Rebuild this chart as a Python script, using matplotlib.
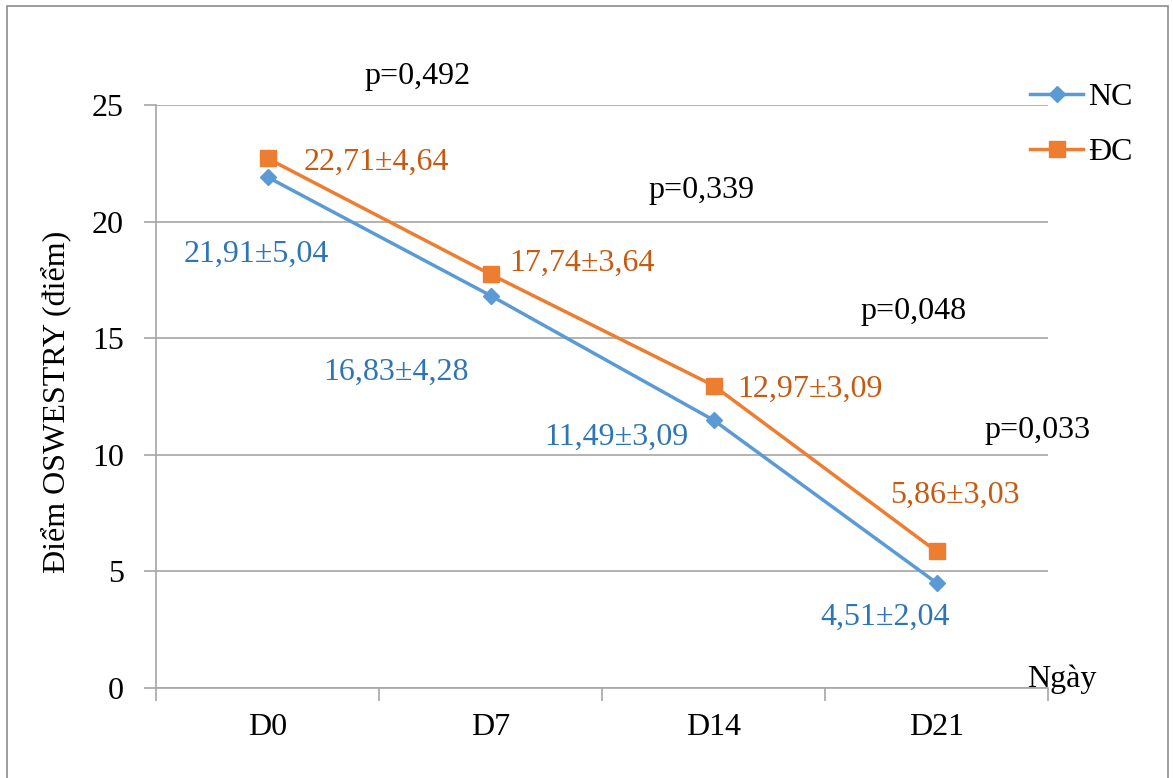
import matplotlib
matplotlib.use("Agg")
import matplotlib.pyplot as plt
from matplotlib.lines import Line2D

plt.rcParams['font.family'] = ['Liberation Serif', 'DejaVu Serif']

# --- data ---------------------------------------------------------------
days = ["D0", "D7", "D14", "D21"]
nc_mean = [21.91, 16.83, 11.49, 4.51]
nc_sd = [5.04, 4.28, 3.09, 2.04]
dc_mean = [22.71, 17.74, 12.97, 5.86]
dc_sd = [4.64, 3.64, 3.09, 3.03]
p_values = ["0,492", "0,339", "0,048", "0,033"]
y_ticks = [0, 5, 10, 15, 20, 25]

# --- layout / style -----------------------------------------------------
W, H = 1173, 778
FS = 23
NC_LINE, DC_LINE = "#5B9BD5", "#ED7D31"
NC_TEXT, DC_TEXT = "#2E75B6", "#C55A11"
GRID = "#A6A6A6"

# label offsets (pixels) from each marker
nc_offsets = [(-11, -77), (-94, -77), (-97, -17), (-51, -35)]
dc_offsets = [(109, -4), (92, 11), (97, -4), (18, 56)]
# p-value label anchors in data coordinates
p_pos = [(0.675, 26.22), (1.948, 21.33), (2.899, 16.14), (3.455, 11.04)]


def fmt(v):
    return f"{v:.2f}".replace(".", ",")


fig = plt.figure(figsize=(W / 100, H / 100), dpi=100)
ax = fig.add_axes([156 / W, 1 - 688 / H, 892 / W, 583 / H])

x = list(range(len(days)))
ax.plot(x, nc_mean, color=NC_LINE, lw=2.5, marker="D", ms=8.5,
        label="NC", zorder=3, clip_on=False)
ax.plot(x, dc_mean, color=DC_LINE, lw=2.5, marker="s", ms=12,
        label="ĐC", zorder=3, clip_on=False)

ax.set_xlim(-0.5, len(days) - 0.5)
ax.set_ylim(0, 25)
ax.set_yticks(y_ticks)
ax.set_yticklabels([str(t) for t in y_ticks], fontsize=FS)
ax.set_xticks(x)
ax.set_xticklabels(days, fontsize=FS)
ax.set_xticks([i - 0.5 for i in range(len(days) + 1)], minor=True)

ax.tick_params(axis="x", which="major", length=0, pad=18)
ax.tick_params(axis="x", which="minor", length=9, width=1.2, color=GRID,
               direction="out")
ax.tick_params(axis="y", which="major", length=9, width=1.2, color=GRID,
               direction="out", pad=14)

ax.grid(axis="y", color=GRID, lw=1.2, zorder=0)
ax.set_axisbelow(True)
for side in ("top", "right"):
    ax.spines[side].set_visible(False)
for side in ("left", "bottom"):
    ax.spines[side].set_color(GRID)
    ax.spines[side].set_linewidth(1.2)

# value labels (mean ± SD)
for i in x:
    ax.annotate(f"{fmt(nc_mean[i])}±{fmt(nc_sd[i])}", (i, nc_mean[i]),
                xytext=nc_offsets[i], textcoords="offset pixels",
                ha="center", va="center", fontsize=FS, color=NC_TEXT)
    ax.annotate(f"{fmt(dc_mean[i])}±{fmt(dc_sd[i])}", (i, dc_mean[i]),
                xytext=dc_offsets[i], textcoords="offset pixels",
                ha="center", va="center", fontsize=FS, color=DC_TEXT)

# p-values between groups
for (px, py), p in zip(p_pos, p_values):
    ax.text(px, py, f"p={p}", ha="center", va="center", fontsize=FS,
            color="black", clip_on=False)

# axis titles
fig.text(56 / W, 1 - 402 / H, "Điểm OSWESTRY (điểm)", rotation=90,
         ha="center", va="center", fontsize=FS)
fig.text(1062 / W, 1 - 679 / H, "Ngày", ha="center", va="center",
         fontsize=FS)

# legend
handles = [
    Line2D([], [], color=NC_LINE, lw=2.5, marker="D", ms=8.5),
    Line2D([], [], color=DC_LINE, lw=2.5, marker="s", ms=12),
]
fig.legend(handles, ["NC", "ĐC"], loc="upper left",
           bbox_to_anchor=(1030 / W, 1 - 83 / H), frameon=False,
           fontsize=FS, handlelength=1.66, handletextpad=0.16,
           labelspacing=0.8, borderpad=0, borderaxespad=0)

# outer chart border
border = plt.Rectangle((7 / W, -0.01), (1168 - 7) / W, 1 - 6 / H + 0.01,
                       transform=fig.transFigure, fill=False,
                       edgecolor="#8C8C8C", lw=1.2)
fig.add_artist(border)

fig.savefig("out.png", dpi=100)
